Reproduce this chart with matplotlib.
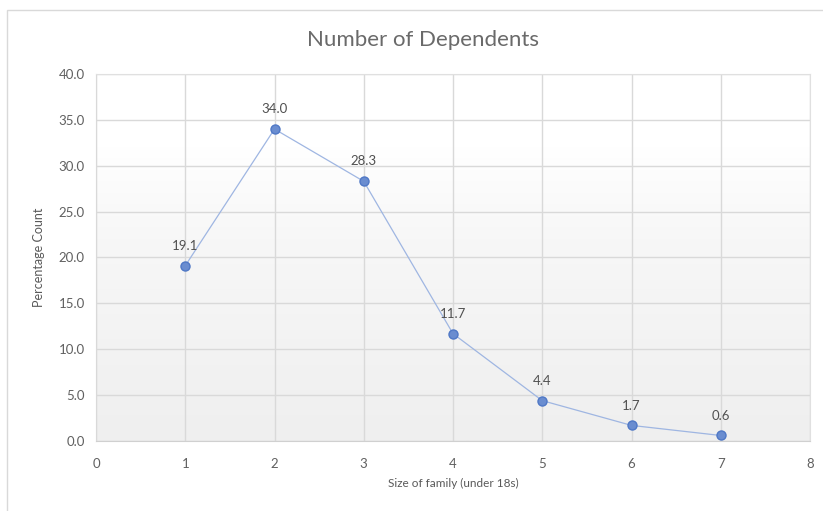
import numpy as np
import matplotlib
matplotlib.use("Agg")
import matplotlib.pyplot as plt
from matplotlib.patches import Rectangle

family_size = [1, 2, 3, 4, 5, 6, 7]
percentage = [19.1, 34.0, 28.3, 11.7, 4.4, 1.7, 0.6]
labels = ["19.1", "34.0", "28.3", "11.7", "4.4", "1.7", "0.6"]
y_ticks = [0, 5, 10, 15, 20, 25, 30, 35, 40]
x_ticks = [0, 1, 2, 3, 4, 5, 6, 7, 8]

plt.rcParams['font.family'] = ['Lato', 'DejaVu Sans']

fig = plt.figure(figsize=(8.23, 5.11), dpi=100)
fig.patch.set_facecolor('white')
# chart outer border
fig.patches.append(Rectangle((7/823, -0.01), 1.0, 1 - 10/511 + 0.01, transform=fig.transFigure,
                             fill=False, edgecolor='#d9d9d9', linewidth=1.0))

ax = fig.add_axes([96/823, 1 - 441/511, (810 - 96)/823, (441 - 74)/511])
ax.set_xlim(0, 8)
ax.set_ylim(0, 40)

# gradient background
grad = np.linspace(0, 1, 256).reshape(-1, 1)
ax.imshow(grad, extent=[0, 8, 0, 40], aspect='auto', origin='lower',
          cmap=matplotlib.colors.LinearSegmentedColormap.from_list(
              'g', [(0, '#efefef'), (0.55, '#f7f7f7'), (0.8, '#ffffff'), (1, '#ffffff')]),
          zorder=0)

ax.set_xticks(x_ticks)
ax.set_yticks(y_ticks)
ax.set_yticklabels([f"{v:.1f}" for v in y_ticks])
ax.grid(True, color='#d9d9d9', linewidth=1.0, zorder=1)
ax.set_axisbelow(True)
for side, c in [('bottom', '#d0d0d0'), ('left', '#d9d9d9'), ('top', '#e0e0e0'), ('right', '#e0e0e0')]:
    ax.spines[side].set_color(c)
ax.tick_params(length=0, colors='#606060', labelsize=9.5, pad=8)
ax.tick_params(axis='x', pad=12)

ax.plot(family_size, percentage, color='#9fb6e2', linewidth=0.9, zorder=3,
        marker='o', markersize=6.5, markerfacecolor='#6a8dd0', markeredgecolor='#4f78c6',
        markeredgewidth=1.0)

for x, y, t in zip(family_size, percentage, labels):
    ax.annotate(t, (x, y), xytext=(0, 10), textcoords='offset points', ha='center',
                va='bottom', fontsize=9.5, color='#505050', zorder=4)

fig.text(423/823, 1 - 40/511, "Number of Dependents", fontsize=16, color='#6a6a6a',
         ha='center', va='center')
ax.set_xlabel("Size of family (under 18s)", fontsize=8.5, color='#595959', labelpad=6)
ax.set_ylabel("Percentage Count", fontsize=9, color='#595959', labelpad=10)

fig.savefig("out.png", dpi=100)
